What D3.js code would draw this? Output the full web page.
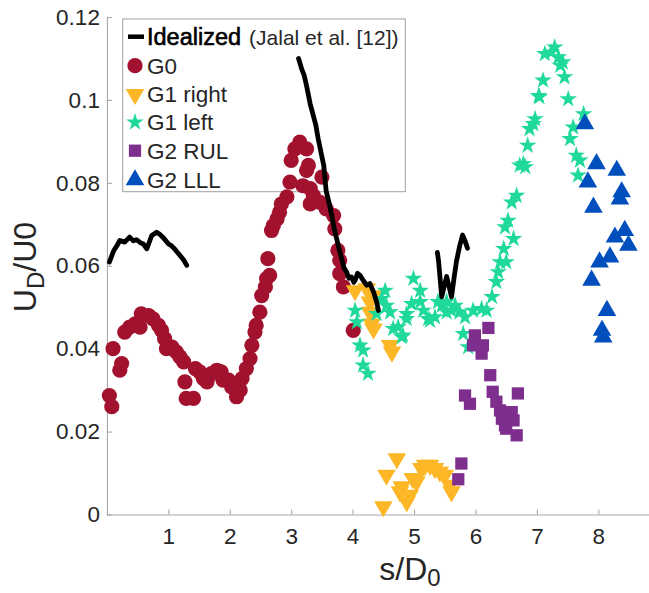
<!DOCTYPE html>
<html><head><meta charset="utf-8">
<script src="https://cdn.jsdelivr.net/npm/d3@7"></script>
<style>
body{margin:0;background:#fff}
svg{display:block}
text{font-family:"Liberation Sans",Arial,Helvetica,sans-serif}
</style>
</head><body>
<svg id="chart" width="649" height="593"></svg>
<script>
// ---------- data ----------
const xTicks = [1, 2, 3, 4, 5, 6, 7, 8];
const yTicks = [0, 0.02, 0.04, 0.06, 0.08, 0.1, 0.12];
const yTickLabels = ["0", "0.02", "0.04", "0.06", "0.08", "0.1", "0.12"];

const seriesNames = ["Idealized", "G0", "G1 right", "G1 left", "G2 RUL", "G2 LLL"];

const idealSeg1 = [[0.04,0.0609],[0.11,0.0636],[0.17,0.0650],[0.21,0.0661],[0.29,0.0657],[0.37,0.0669],[0.43,0.0660],[0.48,0.0663],[0.55,0.0655],[0.59,0.0653],[0.65,0.0641],[0.73,0.0673],[0.81,0.0681],[0.86,0.0676],[0.91,0.0669],[1.00,0.0653],[1.05,0.0648],[1.10,0.0641],[1.15,0.0632],[1.19,0.0625],[1.25,0.0614],[1.30,0.0601]];
const idealSeg2 = [[3.12,0.1100],[3.15,0.1085],[3.17,0.1075],[3.21,0.1060],[3.25,0.1034],[3.31,0.0990],[3.36,0.0962],[3.40,0.0940],[3.44,0.0906],[3.49,0.0870],[3.53,0.0842],[3.55,0.0810],[3.57,0.0780],[3.62,0.0750],[3.66,0.0721],[3.70,0.0690],[3.74,0.0665],[3.78,0.0640],[3.82,0.0617],[3.86,0.0595],[3.90,0.0585],[3.94,0.0570],[3.98,0.0573],[4.02,0.0560],[4.04,0.0565],[4.08,0.0582],[4.12,0.0577],[4.17,0.0565],[4.23,0.0553],[4.28,0.0557],[4.34,0.0537],[4.39,0.0513],[4.42,0.0492]];
const idealSeg3 = [[5.38,0.0632],[5.40,0.0610],[5.45,0.0525],[5.49,0.0550],[5.53,0.0574],[5.57,0.0550],[5.61,0.0525],[5.66,0.0580],[5.69,0.0610],[5.74,0.0646],[5.79,0.0674],[5.83,0.0660],[5.87,0.0642]];

const g0 = [[0.04,0.0287],[0.08,0.0260],[0.10,0.0400],[0.21,0.0348],[0.24,0.0364],[0.29,0.0440],[0.37,0.0452],[0.46,0.0460],[0.54,0.0452],[0.56,0.0484],[0.68,0.0480],[0.75,0.0472],[0.84,0.0456],[0.89,0.0444],[0.94,0.0424],[0.97,0.0400],[1.06,0.0404],[1.13,0.0392],[1.19,0.0380],[1.25,0.0368],[1.27,0.0320],[1.29,0.0280],[1.41,0.0280],[1.44,0.0352],[1.51,0.0344],[1.57,0.0328],[1.63,0.0320],[1.70,0.0340],[1.79,0.0348],[1.86,0.0344],[1.89,0.0324],[1.98,0.0324],[2.03,0.0308],[2.11,0.0284],[2.17,0.0300],[2.20,0.0328],[2.27,0.0352],[2.33,0.0376],[2.36,0.0408],[2.41,0.0440],[2.43,0.0456],[2.49,0.0488],[2.52,0.0528],[2.58,0.0549],[2.60,0.0569],[2.65,0.0577],[2.62,0.0617],[2.68,0.0685],[2.71,0.0697],[2.77,0.0713],[2.81,0.0729],[2.84,0.0749],[2.93,0.0766],[2.98,0.0802],[3.00,0.0854],[3.06,0.0882],[3.14,0.0898],[3.25,0.0882],[3.25,0.0830],[3.28,0.0842],[3.19,0.0793],[3.31,0.0786],[3.36,0.0769],[3.31,0.0749],[3.47,0.0753],[3.50,0.0814],[3.57,0.0737],[3.69,0.0721],[3.71,0.0689],[3.76,0.0637],[3.79,0.0613],[3.79,0.0581],[3.85,0.0549],[4.01,0.0444]];

const g1Right = [[4.04,0.0540],[4.23,0.0545],[4.34,0.0528],[4.28,0.0513],[4.28,0.0488],[4.31,0.0460],[4.34,0.0448],[4.61,0.0408],[4.64,0.0392],[4.50,0.0019],[4.55,0.0095],[4.72,0.0135],[4.77,0.0055],[4.80,0.0067],[4.88,0.0031],[4.93,0.0047],[4.98,0.0087],[5.04,0.0079],[5.12,0.0111],[5.18,0.0119],[5.26,0.0119],[5.34,0.0111],[5.42,0.0103],[5.50,0.0095],[5.58,0.0071],[5.61,0.0055]];

const g1Left = [[4.04,0.0492],[4.07,0.0464],[4.12,0.0408],[4.17,0.0396],[4.17,0.0360],[4.25,0.0340],[4.39,0.0484],[4.47,0.0520],[4.53,0.0540],[4.55,0.0504],[4.61,0.0488],[4.66,0.0448],[4.74,0.0452],[4.82,0.0432],[4.80,0.0428],[4.88,0.0472],[4.88,0.0484],[4.96,0.0508],[4.99,0.0569],[5.10,0.0540],[5.10,0.0513],[5.15,0.0492],[5.23,0.0472],[5.26,0.0468],[5.34,0.0476],[5.39,0.0513],[5.45,0.0504],[5.53,0.0513],[5.53,0.0488],[5.61,0.0492],[5.67,0.0504],[5.74,0.0488],[5.83,0.0476],[5.80,0.0436],[5.88,0.0404],[5.96,0.0492],[6.10,0.0496],[6.18,0.0492],[6.27,0.0525],[6.34,0.0561],[6.37,0.0585],[6.40,0.0609],[6.50,0.0609],[6.46,0.0641],[6.48,0.0693],[6.53,0.0709],[6.62,0.0665],[6.59,0.0753],[6.67,0.0769],[6.72,0.0842],[6.78,0.0846],[6.81,0.0838],[6.85,0.0890],[6.88,0.0930],[6.94,0.0942],[6.97,0.0954],[7.03,0.1010],[7.04,0.1007],[7.10,0.1047],[7.13,0.1111],[7.23,0.1115],[7.29,0.1127],[7.35,0.1103],[7.38,0.1083],[7.42,0.1091],[7.45,0.1055],[7.51,0.1002],[7.76,0.0966],[7.59,0.0934],[7.54,0.0906],[7.64,0.0866],[7.70,0.0854],[7.67,0.0818]];

const g2RUL = [[6.21,0.0450],[5.99,0.0432],[5.96,0.0408],[6.12,0.0408],[6.10,0.0388],[6.24,0.0336],[5.83,0.0287],[5.91,0.0267],[6.28,0.0296],[6.34,0.0272],[6.40,0.0251],[6.43,0.0231],[6.48,0.0215],[6.50,0.0207],[6.59,0.0247],[6.62,0.0227],[6.67,0.0191],[6.69,0.0292],[5.77,0.0123],[5.72,0.0085]];

const g2LLL = [[7.78,0.0942],[7.97,0.0846],[8.30,0.0830],[7.83,0.0802],[8.38,0.0778],[8.35,0.0761],[7.92,0.0741],[8.27,0.0669],[8.43,0.0685],[8.49,0.0649],[8.19,0.0621],[8.02,0.0609],[7.89,0.0565],[8.14,0.0492],[8.06,0.0444],[8.08,0.0428]];

// ---------- setup ----------
const svg = d3.select("#chart");
const x = d3.scaleLinear().domain([0, 10]).range([106.9, 721.2]);
const y = d3.scaleLinear().domain([0, 0.12]).range([514.5, 17]);

const colors = {
  ideal: "#000000",
  g0: "#A2122E",
  g1r: "#FDB726",
  g1l: "#1FD99B",
  rul: "#7E2F8E",
  lll: "#004FBD"
};
const axisColor = "#a8a8a8";
const textColor = "#262626";

// symbols
const symCircle = d3.symbol().type(d3.symbolCircle).size(Math.PI * 7.6 * 7.6);
const symTri = d3.symbol().type(d3.symbolTriangle).size(150);
const symStar = d3.symbol().type(d3.symbolStar).size(95);
const symSquare = d3.symbol().type(d3.symbolSquare).size(150);

// ---------- legend box (no fill, behind data) ----------
svg.append("rect")
  .attr("x", 122.7).attr("y", 19).attr("width", 282.6).attr("height", 172.7)
  .attr("fill", "none").attr("stroke", "#a0a0a0").attr("stroke-width", 1);

// ---------- axes ----------
const xAxis = d3.axisBottom(x).tickValues(xTicks).tickSizeInner(-5).tickSizeOuter(0).tickPadding(14)
  .tickFormat(d3.format("d"));
const gx = svg.append("g").attr("transform", `translate(0,${y(0)})`).call(xAxis);
const yAxis = d3.axisLeft(y).tickValues(yTicks).tickSizeInner(-5).tickSizeOuter(0).tickPadding(7)
  .tickFormat((d, i) => yTickLabels[i]);
const gy = svg.append("g").attr("transform", `translate(${x(0)},0)`).call(yAxis);

[gx, gy].forEach(g => {
  g.select(".domain").attr("stroke", axisColor).attr("stroke-width", 1.1);
  g.selectAll(".tick line").attr("stroke", axisColor).attr("stroke-width", 1.1);
  g.selectAll(".tick text").attr("fill", textColor)
    .style("font-family", '"Liberation Sans",Arial,sans-serif').style("font-size", "22.5px");
});

// axis labels
const xl = svg.append("text").attr("x", 410).attr("y", 580).attr("text-anchor", "middle")
  .attr("fill", textColor).style("font-size", "32px");
xl.append("tspan").text("s/D");
xl.append("tspan").attr("dy", 6).style("font-size", "24px").text("0");

const yl = svg.append("text").attr("transform", "translate(36,267) rotate(-90)").attr("text-anchor", "middle")
  .attr("fill", textColor).style("font-size", "32px");
yl.append("tspan").text("U");
yl.append("tspan").attr("dy", 8).style("font-size", "24px").text("D");
yl.append("tspan").attr("dy", -8).text("/U0");

// ---------- data marks ----------
function scatter(data, sym, color, rot) {
  svg.append("g").selectAll("path").data(data).join("path")
    .attr("d", sym)
    .attr("transform", d => `translate(${x(d[0])},${y(d[1])})` + (rot ? ` rotate(${rot})` : ""))
    .attr("fill", color);
}
scatter(g0, symCircle, colors.g0);
scatter(g1Right, symTri, colors.g1r, 180);
scatter(g1Left, symStar, colors.g1l);
scatter(g2RUL, symSquare, colors.rul);
scatter(g2LLL, symTri, colors.lll);

const line = d3.line().x(d => x(d[0])).y(d => y(d[1]));
[idealSeg1, idealSeg2, idealSeg3].forEach(seg => {
  svg.append("path").attr("d", line(seg)).attr("fill", "none")
    .attr("stroke", colors.ideal).attr("stroke-width", 4.8)
    .attr("stroke-linejoin", "round").attr("stroke-linecap", "round");
});

// ---------- legend ----------
const legY = [36.7, 65.7, 94.3, 122.3, 150.7, 180];
const iconX = 135, textX = 147;
svg.append("line").attr("x1", 128).attr("x2", 144).attr("y1", legY[0]).attr("y2", legY[0])
  .attr("stroke", "#000").attr("stroke-width", 4.5);
const legSyms = [null, [symCircle, colors.g0, 0], [symTri, colors.g1r, 180], [symStar, colors.g1l, 0], [symSquare, colors.rul, 0], [symTri, colors.lll, 0]];
legSyms.forEach((s, i) => {
  if (!s) return;
  svg.append("path").attr("d", s[0]).attr("fill", s[1])
    .attr("transform", `translate(${iconX},${legY[i]})` + (s[2] ? ` rotate(${s[2]})` : ""));
});
const t0 = svg.append("text").attr("x", textX).attr("y", legY[0] + 8).attr("fill", "#000");
t0.append("tspan").style("font-size", "23.5px").attr("stroke", "#000").attr("stroke-width", 0.6).text(seriesNames[0]);
t0.append("tspan").attr("dx", 8).style("font-size", "21px").attr("fill", textColor).text("(Jalal et al. [12])");
seriesNames.slice(1).forEach((n, i) => {
  svg.append("text").attr("x", textX).attr("y", legY[i + 1] + 8).attr("fill", textColor)
    .style("font-size", "22.5px").text(n);
});
</script>
</body></html>
